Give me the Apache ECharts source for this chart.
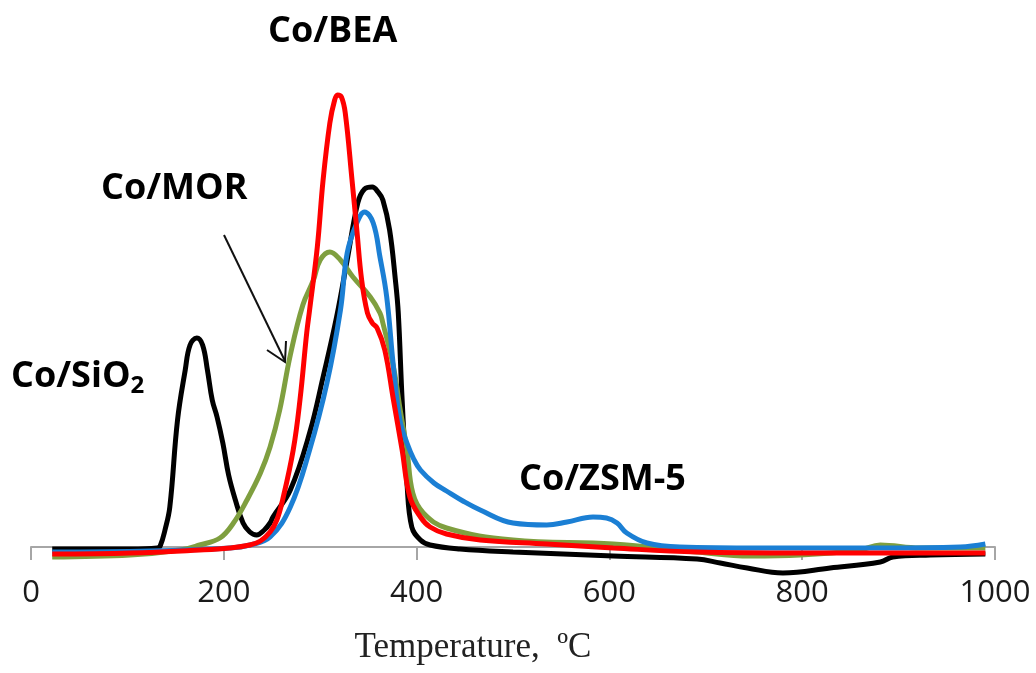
<!DOCTYPE html>
<html>
<head>
<meta charset="utf-8">
<title>TPR profiles</title>
<script src="https://cdn.jsdelivr.net/npm/echarts@6/dist/echarts.min.js"></script>
<style>
  html, body { margin: 0; padding: 0; background: #fff; }
  #chart { width: 1036px; height: 673px; }
</style>
</head>
<body>
<div id="chart"></div>
<script>
// axis ticks
var xTicks = [0, 200, 400, 600, 800, 1000];

// Co/SiO2 (black)
var sio2T = [22, 103, 131, 134, 139, 144, 152, 160, 165, 172, 178, 183, 188, 193, 199, 205, 212, 220, 227, 234, 242, 248, 251, 269, 289, 303, 317, 328, 339, 346, 354, 360, 365, 372, 378, 381, 385, 390, 395, 404, 414, 445, 500, 604, 691, 715, 743, 780, 829, 881, 894, 933, 990];
var sio2I = [-2, -2, -1, 1, 17, 40, 127, 177, 202, 209, 202, 177, 147, 130, 104, 72, 47, 24, 15, 12, 17, 24, 30, 57, 114, 170, 230, 287, 344, 358, 360, 355, 347, 317, 267, 234, 147, 64, 20, 7, 2, -2, -5, -9, -12, -16, -21, -26, -21, -15, -10, -8, -7];

// Co/MOR (green)
var morT = [22, 103, 155, 175, 196, 210, 224, 238, 248, 258, 269, 282, 293, 300, 310, 321, 334, 352, 362, 365, 376, 383, 390, 396, 407, 431, 500, 604, 691, 746, 798, 860, 881, 922, 990];
var morI = [-10, -8, -3, 2, 9, 24, 47, 74, 100, 137, 192, 242, 267, 287, 295, 287, 270, 250, 234, 224, 180, 137, 97, 54, 34, 19, 7, 3, -5, -9, -8, -3, 2, -1, -1];

// Co/ZSM-5 (blue)
var zsmT = [22, 123, 206, 227, 248, 269, 289, 307, 321, 328, 338, 346, 355, 362, 369, 376, 383, 390, 397, 404, 418, 431, 448, 466, 500, 535, 556, 583, 597, 608, 618, 639, 673, 756, 881, 964, 990];
var zsmI = [-5, -4, -1, 2, 10, 40, 97, 164, 237, 294, 324, 335, 324, 290, 250, 180, 125, 104, 88, 77, 64, 56, 46, 37, 24, 22, 25, 30, 29, 24, 14, 4, 0, -1, -1, 0, 3];

// Co/BEA (red)
var beaT = [22, 103, 175, 206, 227, 238, 248, 255, 261, 272, 279, 286, 289, 297, 303, 310, 315, 318, 322, 326, 333, 338, 343, 349, 354, 359, 367, 376, 385, 393, 404, 414, 431, 466, 535, 604, 691, 798, 990];
var beaI = [-7, -6, -3, -1, 2, 6, 15, 27, 47, 97, 147, 214, 237, 300, 367, 424, 447, 452, 450, 434, 367, 317, 267, 234, 224, 219, 197, 147, 97, 50, 30, 20, 13, 7, 3, -1, -5, -6, -6];

function zip(xs, ys) {
    return xs.map(function (x, i) { return [x, ys[i]]; });
}

var myChart = echarts.init(document.getElementById('chart'));

var labelFont = '"Open Sans", "Noto Sans", sans-serif';

function curve(name, color, xs, ys) {
    return {
        name: name,
        type: 'line',
        data: zip(xs, ys),
        smooth: 0.4,
        clip: false,
        showSymbol: false,
        lineStyle: { color: color, width: 5 },
        emphasis: { disabled: true }
    };
}

var option = {
    animation: false,
    backgroundColor: '#fff',
    // grid bottom edge is the zero line; negative signal drawn below it (clip off)
    grid: { left: 31, right: 41, top: 47, bottom: 126, containLabel: false, outerBoundsMode: 'none' },
    xAxis: {
        type: 'value',
        min: xTicks[0],
        max: xTicks[xTicks.length - 1],
        interval: 200,
        splitLine: { show: false },
        axisLine: { onZero: false, lineStyle: { color: '#a6a6a6', width: 2 } },
        axisTick: { show: true, length: 13, lineStyle: { color: '#a6a6a6', width: 2 } },
        axisLabel: {
            margin: 31,
            showMinLabel: true,
            showMaxLabel: true,
            color: '#1a1a1a',
            fontSize: 31,
            fontFamily: labelFont,
            formatter: function (v) { return String(v); }
        },
        name: 'Temperature,  ºC',
        nameLocation: 'middle',
        nameGap: 83,
        nameTextStyle: {
            fontFamily: '"Liberation Serif", "DejaVu Serif", serif',
            fontSize: 35,
            color: '#222',
            padding: [0, 80, 0, 0]
        }
    },
    yAxis: {
        type: 'value',
        min: 0,
        max: 500,
        show: false
    },
    series: [
        curve('Co/SiO2', '#000000', sio2T, sio2I),
        curve('Co/MOR', '#7f9f3f', morT, morI),
        curve('Co/ZSM-5', '#1b7fd4', zsmT, zsmI),
        curve('Co/BEA', '#ff0000', beaT, beaI)
    ],
    graphic: [
        { type: 'text', left: 268, top: 14, style: { text: 'Co/BEA', font: 'bold 36px ' + labelFont, fill: '#000' } },
        { type: 'text', left: 101, top: 171, style: { text: 'Co/MOR', font: 'bold 36px ' + labelFont, fill: '#000' } },
        {
            type: 'text', left: 11, top: 359,
            style: {
                text: '{a|Co/SiO}{b|2}',
                rich: {
                    a: { font: 'bold 36px ' + labelFont, fill: '#000' },
                    b: { font: 'bold 24px ' + labelFont, fill: '#000', padding: [18, 0, 0, 0] }
                }
            }
        },
        { type: 'text', left: 519, top: 462, style: { text: 'Co/ZSM-5', font: 'bold 36px ' + labelFont, fill: '#000' } },
        { type: 'line', shape: { x1: 224, y1: 235, x2: 285, y2: 361 }, style: { stroke: '#111', lineWidth: 2 } },
        { type: 'polyline', shape: { points: [[267, 350], [285, 362], [286, 341]] }, style: { stroke: '#111', lineWidth: 2, fill: null } }
    ]
};

myChart.setOption(option);

window.addEventListener('resize', function () {
    myChart.resize();
});
</script>
</body>
</html>
